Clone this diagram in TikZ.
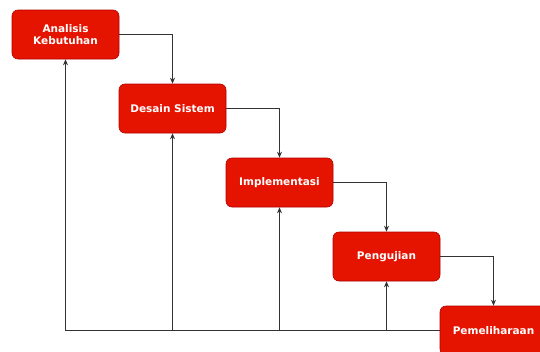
\documentclass[tikz,border=0pt]{standalone}
\usepackage{fontspec}
\setmainfont{DejaVu Sans}
\usetikzlibrary{arrows.meta}
\definecolor{boxred}{HTML}{E51400}
\definecolor{boxedge}{HTML}{B20000}
\definecolor{linecol}{HTML}{333333}
\begin{document}
\begin{tikzpicture}[x=1pt,y=-1pt,
  stage/.style={draw=boxedge,fill=boxred,rounded corners=6pt,minimum width=107pt,minimum height=49pt,
    text=white,font=\bfseries\fontsize{10.5}{12.5}\selectfont,align=center,inner sep=0pt,line width=0.6pt},
  conn/.style={draw=linecol,line width=0.8pt,-{Stealth[length=6pt,width=5pt]}},
  plain/.style={draw=linecol,line width=0.8pt}]
\useasboundingbox (0,0) rectangle (540,351);
\node[stage] (a) at (65.5,34.5) {Analisis\\Kebutuhan};
\node[stage] (b) at (172.5,108.5) {Desain Sistem};
\node[stage] (c) at (279.5,182.5) {Implementasi};
\node[stage] (d) at (386.5,256.5) {Pengujian};
\node[stage] (e) at (493.5,330.5) {Pemeliharaan};
\coordinate (ya) at (65.5,330.5);
\coordinate (yb) at (172.5,330.5);
\coordinate (yc) at (279.5,330.5);
\coordinate (yd) at (386.5,330.5);
\draw[conn] (a.east) -| (b.north);
\draw[conn] (b.east) -| (c.north);
\draw[conn] (c.east) -| (d.north);
\draw[conn] (d.east) -| (e.north);
\draw[plain] (e.west) -- (ya);
\draw[conn] (ya) -- (a.south);
\draw[conn] (yb) -- (b.south);
\draw[conn] (yc) -- (c.south);
\draw[conn] (yd) -- (d.south);
\end{tikzpicture}
\end{document}
